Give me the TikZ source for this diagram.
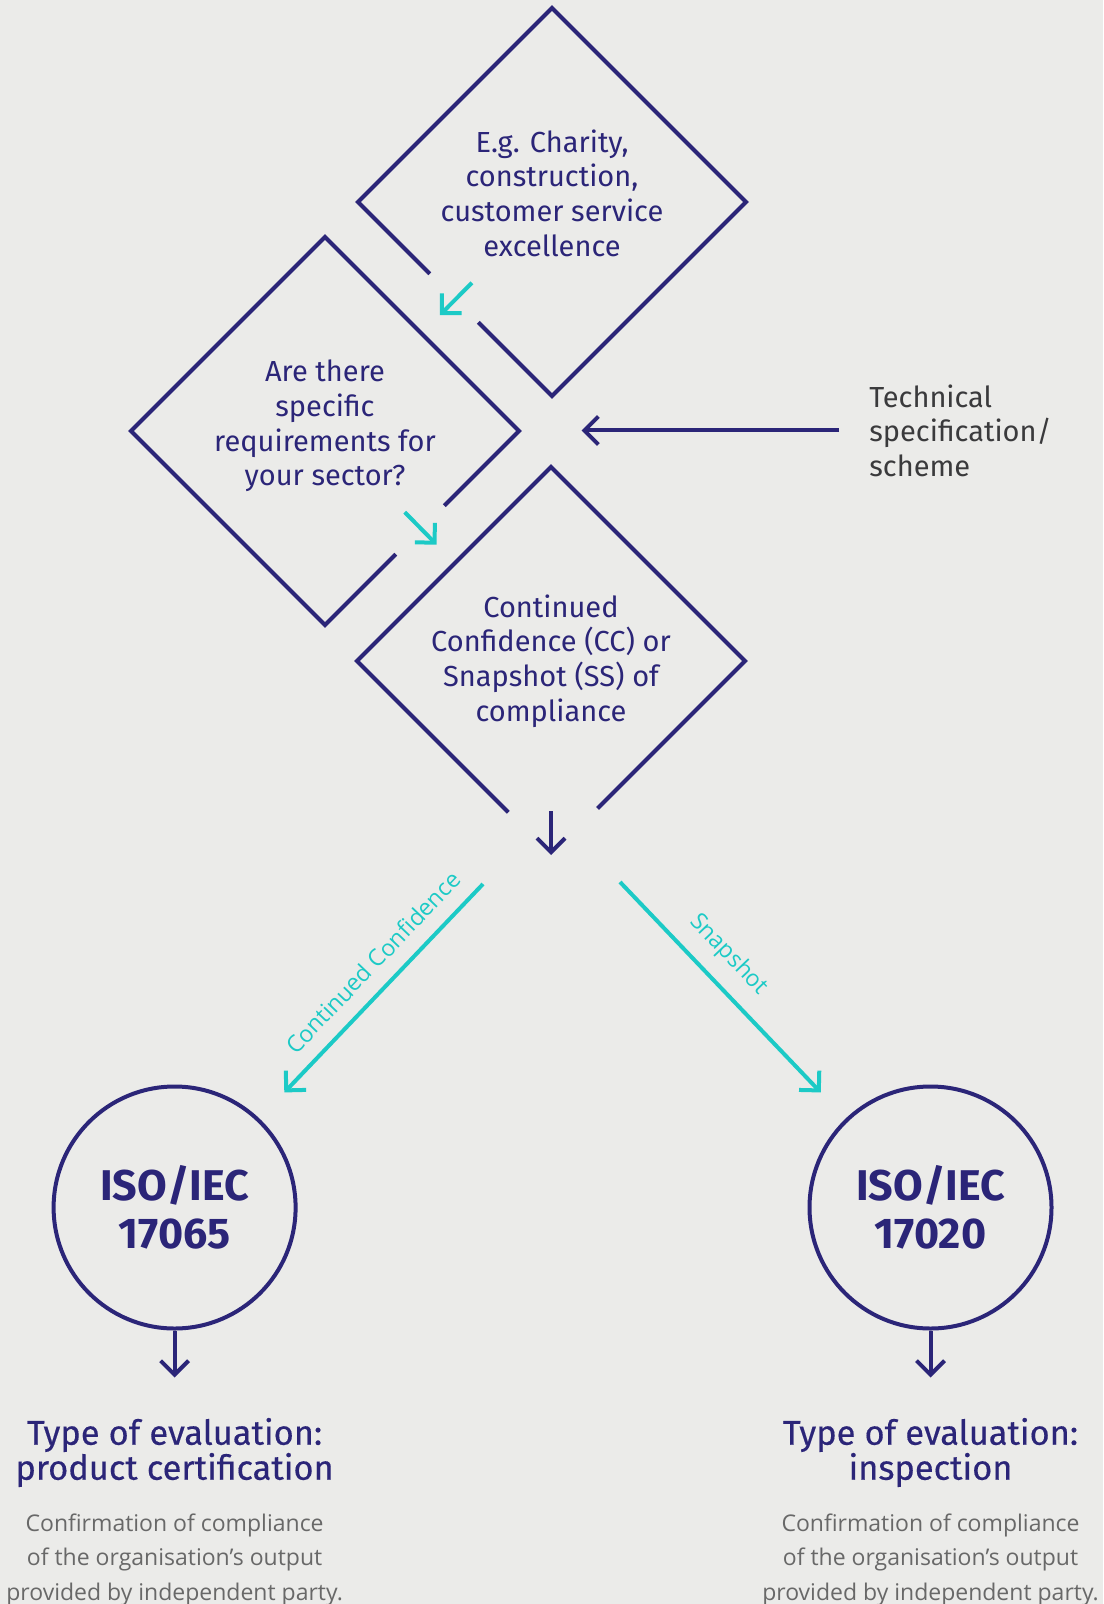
\documentclass[tikz,border=0pt]{standalone}
\usepackage{fontspec}
\setmainfont{Fira Sans}
\newfontfamily\bodyfont{Open Sans}
\newfontfamily\titlefont[FakeBold=0.35]{Fira Sans}
\usepackage{xcolor}
\usetikzlibrary{arrows.meta,shapes.geometric,positioning,calc}

\definecolor{navy}{RGB}{43,37,120}
\definecolor{aqua}{RGB}{28,202,198}
\definecolor{bgcol}{RGB}{235,235,233}
\definecolor{specgrey}{RGB}{58,58,60}
\definecolor{bodygrey}{RGB}{104,104,104}

\tikzset{
    outline/.style={navy, line width=2pt, line join=miter},
    arr/.style={-{Straight Barb[length=7pt,width=14pt,line cap=butt,line join=miter]}, line width=2pt},
    hop/.style={arr, aqua, shorten <=-11.7pt, shorten >=13pt},
    box/.style={diamond, aspect=1, minimum size=194pt, inner sep=0pt, outer sep=0pt},
    boxtext/.style={align=center, text=navy, inner sep=0pt, font=\fontsize{14.5}{17.3}\selectfont},
    iso/.style={circle, draw=navy, line width=2pt, minimum size=121pt, inner sep=0pt, align=center, text=navy, font=\bfseries\fontsize{21.5}{23.9}\selectfont},
    evaltitle/.style={align=center, text=navy, inner sep=0pt, font=\titlefont\fontsize{17.2}{17.5}\selectfont},
    evaltext/.style={align=center, text=bodygrey, inner sep=0pt, font=\bodyfont\fontsize{11.5}{17.2}\selectfont},
    branch/.style={text=aqua, font=\bodyfont\fontsize{11.6}{13}\selectfont}
}

\begin{document}
\begin{tikzpicture}[x=0.5pt, y=-0.5pt]
    % Background
    \fill[bgcol] (0,0) rectangle (1103,1604);
    \useasboundingbox (0,0) rectangle (1103,1604);

    % Diamonds
    \node[box] (d1) at (552,202) {};
    \node[box] (d2) at (325,431) {};
    \node[box] (d3) at (551,661) {};
    \draw[outline] ($(d1.west)!0.62!(d1.south)$) -- (d1.south) -- (d1.east) -- (d1.north) -- (d1.west) -- ($(d1.west)!0.37!(d1.south)$);
    \draw[outline] ($(d2.east)!0.635!(d2.south)$) -- (d2.south) -- (d2.west) -- (d2.north) -- (d2.east) -- ($(d2.east)!0.385!(d2.south)$);
    \draw[outline] ($(d3.west)!0.78!(d3.south)$) -- (d3.west) -- (d3.north) -- (d3.east) -- ($(d3.east)!0.76!(d3.south)$);

    % Diamond texts
    \node[boxtext] (d1t) at (552,193) {E.g. Charity,\\construction,\\customer service\\excellence};
    \node[boxtext] (d2t) at (325,426) {Are there\\specific\\requirements for\\your sector?};
    \node[boxtext] (d3t) at (551,661) {Continued\\Confidence (CC) or\\Snapshot (SS) of\\compliance};

    % Hops from one diamond to the next
    \draw[hop] (d1) -- (d2);
    \draw[hop] (d2) -- (d3);

    % Technical specification
    \node[anchor=west, align=left, inner sep=0pt, text=specgrey, font=\fontsize{14.5}{17.3}\selectfont] (spec) at (869,430.5) {Technical\\specification/\\scheme};
    \coordinate (join) at ($(d1.south)!0.5!(d3.north)$);
    \draw[arr, navy, shorten >=15pt] ([xshift=-15pt]spec.west) -- (spec.west -| join);

    % Out of the last diamond
    \draw[arr, navy] ([yshift=22pt]d3.south) -- (d3.south);

    % Standards
    \node[iso] (iso1) at (174.6,1207.5) {ISO/IEC\\17065};
    \node[iso] (iso2) at (930.5,1207.5) {ISO/IEC\\17020};

    % Branches
    \coordinate (ccstart) at (483,884);
    \coordinate (ssstart) at (620,882);
    \draw[arr, aqua, shorten >=18pt] (ccstart) -- (iso1) node[branch, pos=0.41, sloped, above=4pt] (cclabel) {Continued Confidence};
    \draw[arr, aqua, shorten >=18pt] (ssstart) -- (iso2) node[branch, pos=0.39, sloped, above=4pt] (sslabel) {Snapshot};

    % Type of evaluation
    \coordinate (o1) at (174.6,1377.5);
    \coordinate (o2) at (930.5,1377.5);
    \draw[arr, navy] (iso1) -- (o1);
    \draw[arr, navy] (iso2) -- (o2);
    \node[evaltitle, below=20pt of o1] (t1) {Type of evaluation:\\product certification};
    \node[evaltitle, below=20pt of o2] (t2) {Type of evaluation:\\inspection};
    \node[evaltext, below=13pt of t1] (c1) {Confirmation of compliance\\of the organisation’s output\\provided by independent party.};
    \node[evaltext, below=13pt of t2] (c2) {Confirmation of compliance\\of the organisation’s output\\provided by independent party.};
\end{tikzpicture}
\end{document}
